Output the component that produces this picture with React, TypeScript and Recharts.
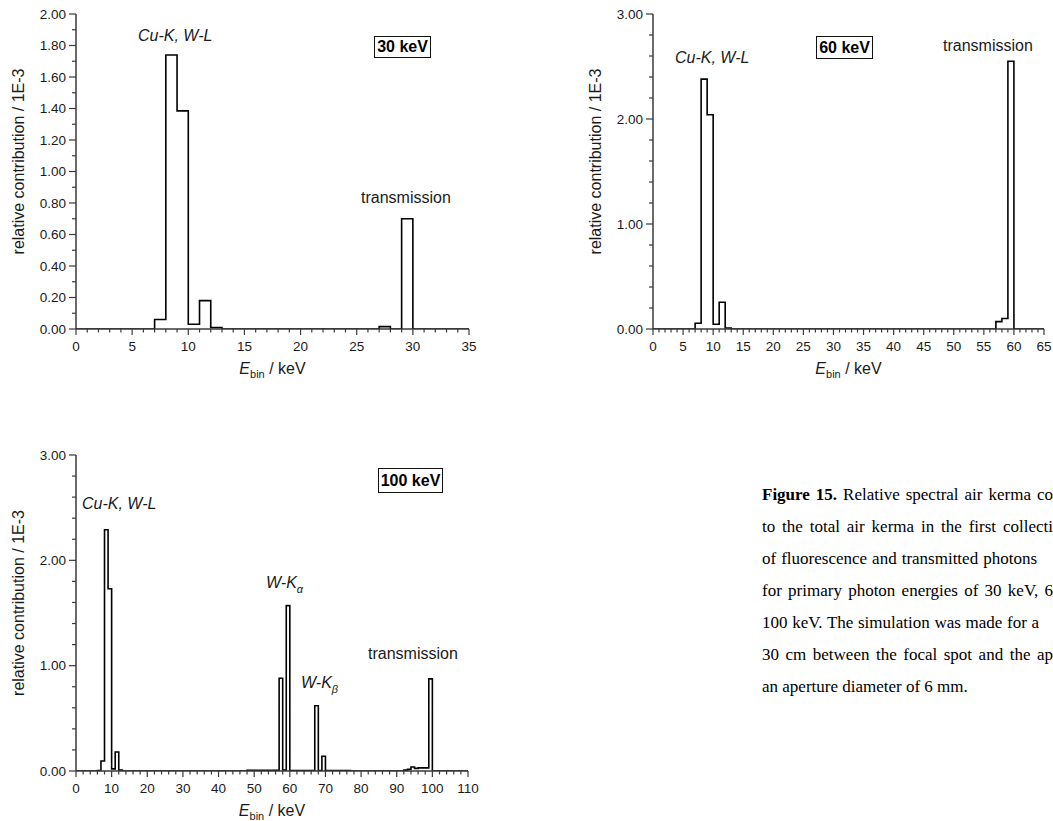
import React from "react";
import { LineChart, Line, XAxis, YAxis } from "recharts";

// bin lower edges (keV) and relative contribution (1E-3), 1 keV bins
const edges30 = [0, 7, 8, 9, 10, 11, 12, 13, 27, 28, 29, 30, 35];
const values30 = [0, 0.06, 1.74, 1.385, 0.03, 0.18, 0.01, 0, 0.015, 0, 0.7, 0, 0];

const edges60 = [0, 7, 8, 9, 10, 11, 12, 13, 57, 58, 59, 60, 65];
const values60 = [0, 0.055, 2.38, 2.04, 0.045, 0.255, 0.01, 0, 0.07, 0.1, 2.55, 0, 0];

const edges100 = [0, 6, 7, 8, 9, 10, 11, 12, 13, 48, 57, 58, 59, 60, 67, 68, 69, 70, 77, 92, 93, 94, 95, 96, 99, 100, 110];
const values100 = [0, 0.005, 0.095, 2.29, 1.73, 0.02, 0.18, 0.01, 0, 0.006, 0.88, 0.01, 1.57, 0.004, 0.62, 0.005, 0.14, 0.004, 0, 0.008, 0.015, 0.038, 0.025, 0.03, 0.875, 0, 0];

const xMajor30 = [0, 5, 10, 15, 20, 25, 30, 35];
const xMajor60 = [0, 5, 10, 15, 20, 25, 30, 35, 40, 45, 50, 55, 60, 65];
const xMajor100 = [0, 10, 20, 30, 40, 50, 60, 70, 80, 90, 100, 110];
const yMajor30 = [0, 0.2, 0.4, 0.6, 0.8, 1.0, 1.2, 1.4, 1.6, 1.8, 2.0];
const yMajor3 = [0, 1, 2, 3];

// caption as far as it is visible in the picture (the page is cropped on the right)
const captionLines = [
  { text: "to the total air kerma in the first collecti", width: 291 },
  { text: "of fluorescence and transmitted photons", width: 275 },
  { text: "for primary photon energies of 30 keV, 6", width: 291 },
  { text: "100 keV. The simulation was made for a", width: 277 },
  { text: "30 cm between the focal spot and the ap", width: 291 },
];
const lastLine = "an aperture diameter of 6 mm.";

const AXIS = "#3a3a3a";
const TEXT = "#1a1a1a";
const SANS = "'Liberation Sans', Arial, sans-serif";
const SERIF = "'Liberation Serif', 'Times New Roman', serif";

const steps = (max: number, step: number) => {
  const out: number[] = [];
  for (let i = 0; i * step <= max + 1e-9; i++) out.push(+(i * step).toFixed(4));
  return out;
};
const onList = (v: number, list: number[]) => list.some((m) => Math.abs(m - v) < 1e-6);

type PanelProps = {
  left: number;
  top: number;
  width: number;
  height: number;
  margin: { top: number; right: number; bottom: number; left: number };
  yAxisWidth: number;
  edges: number[];
  values: number[];
  xMajor: number[];
  xMinor: number;
  yMajor: number[];
  yMinor: number;
};

const Panel = (p: PanelProps) => {
  const data = p.edges.map((e, i) => ({ e, v: p.values[i] }));
  const xMax = p.xMajor[p.xMajor.length - 1];
  const yMax = p.yMajor[p.yMajor.length - 1];
  const xAll = steps(xMax, p.xMinor);
  const yAll = steps(yMax, p.yMinor);

  const bottomTick = (t: any) => {
    const major = onList(t.payload.value, p.xMajor);
    return (
      <g>
        <line x1={t.x} x2={t.x} y1={t.y} y2={t.y + (major ? 6 : 3.5)} stroke={AXIS} strokeWidth={1.2} />
        {major && (
          <text x={t.x} y={t.y + 17} dy="0.35em" textAnchor="middle" fontSize={13.5} fill={TEXT} fontFamily={SANS}>
            {t.payload.value}
          </text>
        )}
      </g>
    );
  };
  const topTick = (t: any) => {
    const major = onList(t.payload.value, p.xMajor);
    return <line x1={t.x} x2={t.x} y1={t.y} y2={t.y + (major ? 6 : 3.5)} stroke={AXIS} strokeWidth={1.2} />;
  };
  const leftTick = (t: any) => {
    const major = onList(t.payload.value, p.yMajor);
    return (
      <g>
        <line x1={t.x} x2={t.x - (major ? 7 : 4)} y1={t.y} y2={t.y} stroke={AXIS} strokeWidth={1.2} />
        {major && (
          <text x={t.x - 10} y={t.y} dy="0.35em" textAnchor="end" fontSize={13.5} fill={TEXT} fontFamily={SANS}>
            {Number(t.payload.value).toFixed(2)}
          </text>
        )}
      </g>
    );
  };
  const rightTick = (t: any) => {
    const major = onList(t.payload.value, p.yMajor);
    return <line x1={t.x} x2={t.x - (major ? 7 : 4)} y1={t.y} y2={t.y} stroke={AXIS} strokeWidth={1.2} />;
  };

  const xTitle = (props: any) => {
    const vb = props.viewBox;
    return (
      <text x={vb.x + vb.width / 2} y={vb.y + 45} textAnchor="middle" fontSize={16} fill={TEXT} fontFamily={SANS}>
        <tspan fontStyle="italic">E</tspan>
        <tspan fontSize={11} dy={4}>bin</tspan>
        <tspan dy={-4}> / keV</tspan>
      </text>
    );
  };
  const yTitle = (props: any) => {
    const vb = props.viewBox;
    const cx = vb.x + vb.width - 58;
    const cy = vb.y + vb.height / 2 - 10;
    return (
      <text x={cx} y={cy} transform={`rotate(-90, ${cx}, ${cy})`} textAnchor="middle" dy="0.35em" fontSize={16} fill={TEXT} fontFamily={SANS}>
        relative contribution / 1E-3
      </text>
    );
  };

  const axisLine = { stroke: AXIS, strokeWidth: 1.5 };

  return (
    <div style={{ position: "absolute", left: p.left, top: p.top }}>
      <LineChart width={p.width} height={p.height} data={data} margin={p.margin}>
        <XAxis xAxisId="b" dataKey="e" type="number" domain={[0, xMax]} allowDataOverflow ticks={xAll} interval={0}
          tickSize={0} tickMargin={0} tickLine={false} tick={bottomTick} axisLine={axisLine} height={50} label={xTitle} />
        <XAxis xAxisId="t" orientation="top" type="number" domain={[0, xMax]} allowDataOverflow ticks={xAll} interval={0}
          tickSize={0} tickMargin={0} tickLine={false} tick={topTick} axisLine={axisLine} height={0} />
        <YAxis yAxisId="l" type="number" domain={[0, yMax]} allowDataOverflow ticks={yAll} interval={0}
          tickSize={0} tickMargin={0} tickLine={false} tick={leftTick} axisLine={axisLine} width={p.yAxisWidth} label={yTitle} />
        <YAxis yAxisId="r" orientation="right" type="number" domain={[0, yMax]} allowDataOverflow ticks={yAll} interval={0}
          tickSize={0} tickMargin={0} tickLine={false} tick={rightTick} axisLine={axisLine} width={0} />
        <Line xAxisId="b" yAxisId="l" type="stepAfter" dataKey="v" stroke="#000" strokeWidth={1.6} dot={false} activeDot={false} isAnimationActive={false} />
      </LineChart>
    </div>
  );
};

const Note = ({ left, top, children, italic }: { left: number; top: number; children: React.ReactNode; italic?: boolean }) => (
  <div style={{ position: "absolute", left, top, fontFamily: SANS, fontSize: 16, lineHeight: "16px", color: TEXT, fontStyle: italic ? "italic" : "normal", whiteSpace: "nowrap" }}>
    {children}
  </div>
);

const EnergyBox = ({ left, top, width, height, label }: { left: number; top: number; width: number; height: number; label: string }) => (
  <div style={{ position: "absolute", left, top, width, height, boxSizing: "border-box", border: "1.5px solid #111", fontFamily: SANS, fontSize: 16, fontWeight: "bold", color: "#000", display: "flex", alignItems: "center", justifyContent: "center", whiteSpace: "nowrap" }}>
    {label}
  </div>
);

const Sub = ({ children }: { children: React.ReactNode }) => (
  <span style={{ fontSize: 11, position: "relative", top: 5 }}>{children}</span>
);

const justified = (width: number): React.CSSProperties => ({
  width,
  textAlign: "justify",
  textAlignLast: "justify",
  whiteSpace: "normal",
  height: 32,
  overflow: "hidden",
});

export default function App() {
  return (
    <div style={{ position: "absolute", left: 0, top: 0, width: 1053, height: 821, overflow: "hidden", background: "#fff" }}>
      <Panel left={0} top={0} width={480} height={390} margin={{ top: 14, right: 11, bottom: 11, left: 0 }} yAxisWidth={76}
        edges={edges30} values={values30} xMajor={xMajor30} xMinor={1} yMajor={yMajor30} yMinor={0.1} />
      <Panel left={560} top={0} width={500} height={390} margin={{ top: 14, right: 16, bottom: 11, left: 0 }} yAxisWidth={93}
        edges={edges60} values={values60} xMajor={xMajor60} xMinor={1} yMajor={yMajor3} yMinor={0.2} />
      <Panel left={0} top={441} width={480} height={380} margin={{ top: 14, right: 12, bottom: 0, left: 0 }} yAxisWidth={76}
        edges={edges100} values={values100} xMajor={xMajor100} xMinor={2} yMajor={yMajor3} yMinor={0.2} />

      <Note left={138} top={28} italic>Cu-K, W-L</Note>
      <EnergyBox left={374} top={36} width={57} height={22} label="30 keV" />
      <Note left={361} top={190}>transmission</Note>

      <Note left={675} top={50} italic>Cu-K, W-L</Note>
      <EnergyBox left={816} top={36} width={57} height={23} label="60 keV" />
      <Note left={943} top={38}>transmission</Note>

      <Note left={82} top={496} italic>Cu-K, W-L</Note>
      <EnergyBox left={378} top={468} width={65} height={25} label="100 keV" />
      <Note left={266} top={575} italic>W-K<Sub>α</Sub></Note>
      <Note left={301} top={675} italic>W-K<Sub>β</Sub></Note>
      <Note left={368} top={646}>transmission</Note>

      <div style={{ position: "absolute", left: 762, top: 479, fontFamily: SERIF, fontSize: 17, lineHeight: "32px", color: "#000" }}>
        <div style={justified(291)}><b>Figure 15.</b> Relative spectral air kerma co</div>
        {captionLines.map((line) => (
          <div key={line.text} style={justified(line.width)}>{line.text}</div>
        ))}
        <div style={{ whiteSpace: "nowrap" }}>{lastLine}</div>
      </div>
    </div>
  );
}
